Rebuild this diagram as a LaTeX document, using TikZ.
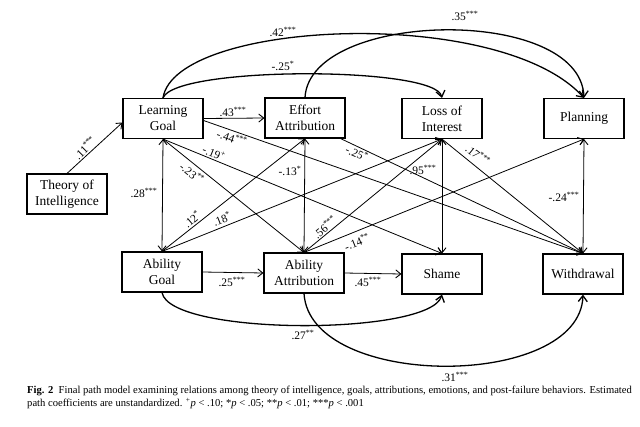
\documentclass[tikz,border=0pt]{standalone}
\usepackage{fontspec}
\setmainfont{Liberation Serif}
\usetikzlibrary{arrows.meta,calc}
\begin{document}
\begin{tikzpicture}[x=1pt,y=-1pt,
 box/.style={draw, line width=1.1pt, minimum width=80pt, minimum height=40pt, align=center, inner sep=1pt, font=\fontsize{13.5}{16}\selectfont},
 tip/.tip={Straight Barb[length=5pt,width=8pt,line width=0.9pt]},
 pathline/.style={line width=0.8pt, -tip},
 covline/.style={line width=0.8pt, tip-tip},
 curveline/.style={line width=1.3pt, -{Straight Barb[length=6pt,width=9pt]}},
 lbl/.style={font=\fontsize{11.5}{12}\selectfont, inner sep=0pt},
]
\fill[white] (0,0) rectangle (640,426);
\useasboundingbox (0,0) rectangle (640,426);

% nodes
\node[box] (TI) at (67,194) {Theory of\\Intelligence};
\node[box] (LG) at (163,118.5) {Learning\\Goal};
\node[box] (EA) at (305,118) {Effort\\Attribution};
\node[box] (LI) at (442,118.5) {Loss of\\Interest};
\node[box] (PL) at (584,118.5) {Planning};
\node[box] (AG) at (162,272) {Ability\\Goal};
\node[box] (AA) at (304,273) {Ability\\Attribution};
\node[box] (SH) at (442,274) {Shame};
\node[box] (WD) at (583,274) {Withdrawal};

% straight paths
\draw[pathline] (TI.north) -- ($(LG.west)+(0,4)$);
\draw[pathline] (LG.east) -- (EA.west);
\draw[pathline] ($(LG.east)+(0,2)$) -- (WD.north);
\draw[pathline] (LG.south) -- (SH.north);
\draw[pathline] (LG.south) -- (AA.north);
\draw[covline] (LG.south) -- (AG.north);
\draw[pathline] (AG.north) -- (EA.south);
\draw[pathline] (AG.north) -- (LI.south);
\draw[covline] (EA.south) -- (AA.north);
\draw[pathline] ($(EA.south east)+(-5,0)$) -- (WD.north);
\draw[covline] (LI.south) -- (SH.north);
\draw[pathline] (LI.south) -- (WD.north);
\draw[covline] (PL.south) -- (WD.north);
\draw[pathline] (AA.north) -- (LI.south);
\draw[pathline] (AA.north) -- (PL.south);
\draw[pathline] (AG.east) -- (AA.west);
\draw[pathline] (AA.east) -- (SH.west);

% curves
\draw[curveline] (LG.north) .. controls (175,20) and (500,5) .. (PL.north);
\draw[curveline] (LG.north) .. controls (175,66) and (435,66) .. (LI.north);
\draw[curveline] (EA.north) .. controls (310,10) and (580,5) .. (PL.north);
\draw[curveline] (AG.south) .. controls (170,336) and (430,336) .. (SH.south);
\draw[curveline] (AA.south) .. controls (310,390) and (580,390) .. (WD.south);

% labels
\node[lbl, rotate=45] (l11) at (85,148) {.11\textsuperscript{***}};
\node[lbl] (l43) at (233,112) {.43\textsuperscript{***}};
\node[lbl] (l42) at (283,32) {.42\textsuperscript{***}};
\node[lbl] (l25c) at (283,66) {-.25\textsuperscript{*}};
\node[lbl] (l35) at (465,16) {.35\textsuperscript{***}};
\node[lbl, rotate=-19] (l44) at (232,138) {-.44\textsuperscript{***}};
\node[lbl, rotate=-22] (l19) at (214,153) {-.19\textsuperscript{+}};
\node[lbl, rotate=-39] (l23) at (192,173) {-.23\textsuperscript{**}};
\node[lbl] (l28) at (144,193) {.28\textsuperscript{***}};
\node[lbl, rotate=40] (l12) at (192,219) {.12\textsuperscript{*}};
\node[lbl, rotate=22] (l18) at (222,219) {.18\textsuperscript{*}};
\node[lbl] (l13) at (290,171) {-.13\textsuperscript{*}};
\node[lbl, rotate=-24] (l25s) at (357,153) {-.25\textsuperscript{*}};
\node[lbl] (l95) at (423,170) {.95\textsuperscript{***}};
\node[lbl, rotate=-39] (l17) at (478,155) {.17\textsuperscript{***}};
\node[lbl] (l24) at (564,197) {-.24\textsuperscript{***}};
\node[lbl, rotate=40] (l56) at (325,227) {.56\textsuperscript{***}};
\node[lbl, rotate=22] (l14) at (357,242) {-.14\textsuperscript{**}};
\node[lbl] (l25a) at (232,282) {.25\textsuperscript{***}};
\node[lbl] (l45) at (368,282) {.45\textsuperscript{***}};
\node[lbl] (l27) at (303,335) {.27\textsuperscript{**}};
\node[lbl] (l31) at (455,377) {.31\textsuperscript{***}};

% caption
\node[anchor=north west, align=left, inner sep=0pt, font=\fontsize{10.6}{12.5}\selectfont] (cap) at (27,386)
 {\textbf{Fig. 2}\ \ Final path model examining relations among theory of intelligence, goals, attributions, emotions, and post-failure behaviors. Estimated\\
 path coefficients are unstandardized. \textsuperscript{+}\textit{p} < .10; *\textit{p} < .05; **\textit{p} < .01; ***\textit{p} < .001};
\end{tikzpicture}
\end{document}
